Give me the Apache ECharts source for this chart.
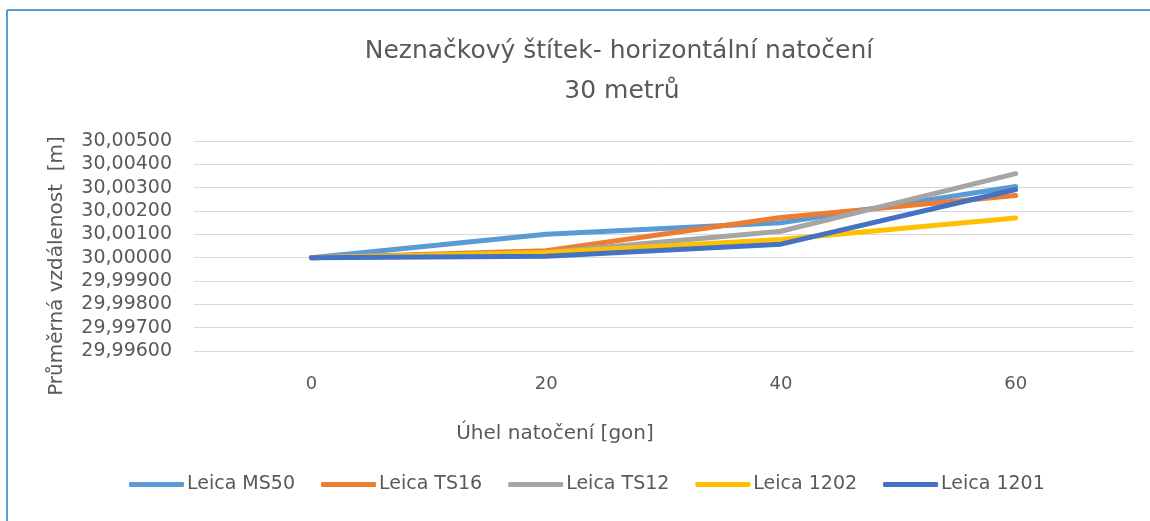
<!DOCTYPE html>
<html>
<head>
<meta charset="utf-8">
<script src="https://cdn.jsdelivr.net/npm/echarts@6/dist/echarts.min.js"></script>
<style>
  html, body { margin: 0; padding: 0; background: #fff; }
  #chart { width: 1150px; height: 521px; }
</style>
</head>
<body>
<div id="chart"></div>
<script>
// uhel natoceni [gon]
const angles = ['0', '20', '40', '60'];
const seriesNames = ['Leica MS50', 'Leica TS16', 'Leica TS12', 'Leica 1202', 'Leica 1201'];
const seriesColors = ['#5B9BD5', '#ED7D31', '#A5A5A5', '#FFC000', '#4472C4'];
// prumerna vzdalenost [m]
const ms50 = [30.00000, 30.00100, 30.00150, 30.00305];
const ts16 = [30.00000, 30.00030, 30.00172, 30.00266];
const ts12 = [30.00000, 30.00022, 30.00113, 30.00360];
const l1202 = [30.00000, 30.00022, 30.00078, 30.00170];
const l1201 = [30.00000, 30.00006, 30.00058, 30.00292];
const seriesData = [ms50, ts16, ts12, l1202, l1201];

const textColor = '#595959';
const font = 'DejaVu Sans';

const chart = echarts.init(document.getElementById('chart'));

const series = seriesNames.map(function (name, i) {
  return {
    name: name,
    type: 'line',
    data: seriesData[i],
    symbol: 'none',
    lineStyle: { width: 5, color: seriesColors[i], cap: 'round', join: 'round' },
    itemStyle: { color: seriesColors[i] }
  };
});

chart.setOption({
  animation: false,
  backgroundColor: '#fff',
  grid: { left: 194, right: 17, top: 141, bottom: 170 },
  legend: {
    data: seriesNames,
    left: 124,
    top: 470,
    icon: 'roundRect',
    itemWidth: 55,
    itemHeight: 5,
    itemGap: 26,
    textStyle: { color: textColor, fontSize: 19, fontFamily: font, padding: [0, 0, 0, -2] }
  },
  xAxis: {
    type: 'category',
    data: angles,
    boundaryGap: true,
    axisLine: { show: true, lineStyle: { color: '#d9d9d9', width: 1 } },
    axisTick: { show: false },
    axisLabel: { color: textColor, fontSize: 18, fontFamily: font, margin: 24 }
  },
  yAxis: {
    type: 'value',
    min: 29.996,
    max: 30.005,
    interval: 0.001,
    axisLine: { show: false },
    axisTick: { show: false },
    splitLine: { lineStyle: { color: '#d9d9d9', width: 1 } },
    axisLabel: {
      color: textColor,
      fontSize: 19,
      fontFamily: font,
      margin: 22,
      formatter: function (v) { return v.toFixed(5).replace('.', ','); }
    }
  },
  graphic: [
    { type: 'line', shape: { x1: 7, y1: 10, x2: 1150, y2: 10 }, style: { stroke: '#5B9BD5', lineWidth: 2 } },
    { type: 'line', shape: { x1: 7, y1: 10, x2: 7, y2: 521 }, style: { stroke: '#5B9BD5', lineWidth: 2 } },
    {
      type: 'text', x: 619, y: 51, z: 10,
      style: {
        text: 'Neznačkový štítek- horizontální natočení', fill: textColor,
        font: '25px "' + font + '"', textAlign: 'center', textVerticalAlign: 'middle'
      }
    },
    {
      type: 'text', x: 622, y: 91, z: 10,
      style: {
        text: '30 metrů', fill: textColor,
        font: '25px "' + font + '"', textAlign: 'center', textVerticalAlign: 'middle'
      }
    },
    {
      type: 'text', x: 555, y: 434, z: 10,
      style: {
        text: 'Úhel natočení [gon]', fill: textColor, font: '20px "' + font + '"',
        textAlign: 'center', textVerticalAlign: 'middle'
      }
    },
    {
      type: 'text', x: 57, y: 266, rotation: Math.PI / 2, z: 10,
      style: {
        text: 'Průměrná vzdálenost  [m]', fill: textColor, font: '20px "' + font + '"',
        textAlign: 'center', textVerticalAlign: 'middle'
      }
    }
  ],
  series: series
});
</script>
</body>
</html>
